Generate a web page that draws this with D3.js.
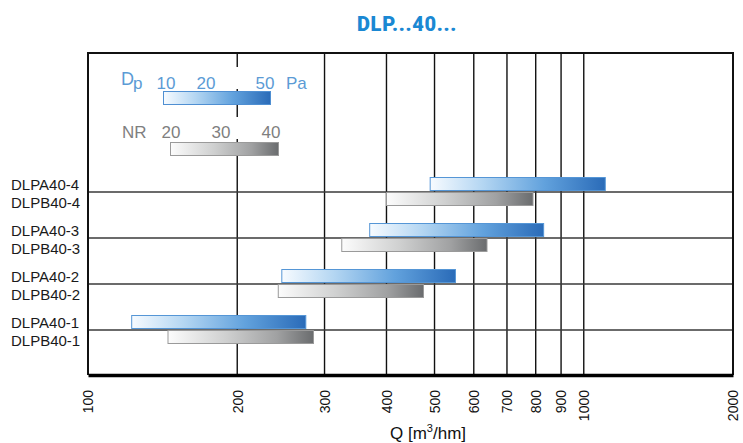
<!DOCTYPE html>
<html><head><meta charset="utf-8">
<script src="https://cdn.jsdelivr.net/npm/d3@7"></script>
<style>body{margin:0;background:#fff}</style>
</head><body><svg id="c" width="743" height="443"></svg>
<script>
const models = ["40-4","40-3","40-2","40-1"];
const labelsA = ["DLPA40-4","DLPA40-3","DLPA40-2","DLPA40-1"];
const labelsB = ["DLPB40-4","DLPB40-3","DLPB40-2","DLPB40-1"];
const aMin = [490, 370, 246, 122.5];
const aMax = [1105, 830, 551, 275];
const bMin = [400, 325, 242, 145];
const bMax = [790, 638, 475, 285];
const xTicks = [100,200,300,400,500,600,700,800,900,1000,2000];
const dpTicks = ["10","20","50"];
const nrTicks = ["20","30","40"];

const svg = d3.select("#c");
const L = 88, R = 733, T = 53, B = 375;
const x = d3.scaleLog().domain([100,2000]).range([L,R]);
const y = d3.scalePoint().domain(models).range([192,330]);

const defs = svg.append("defs");
function grad(id, stops){
  const g = defs.append("linearGradient").attr("id",id).attr("x1","0").attr("x2","1").attr("y1","0").attr("y2","0");
  stops.forEach(s=>g.append("stop").attr("offset",s[0]).attr("stop-color",s[1]));
}
grad("gBlue", [[0,"#f7fbff"],[0.3,"#b4d6f2"],[0.65,"#62a2dd"],[1,"#2a6bb8"]]);
grad("gGray", [[0,"#fcfcfc"],[0.4,"#cfd0d0"],[0.75,"#a0a1a2"],[1,"#6a6c6e"]]);

// title
svg.append("text").attr("x",407).attr("y",31).attr("text-anchor","middle")
  .attr("font-family","Roboto, 'Liberation Sans', sans-serif").attr("font-weight",900)
  .attr("font-size",20).attr("letter-spacing","0.7px").attr("fill","#1a88d3").text("DLP...40...");

// vertical gridlines
svg.append("g").selectAll("line").data(xTicks).join("line")
  .attr("x1",d=>x(d)).attr("x2",d=>x(d)).attr("y1",T).attr("y2",B)
  .attr("stroke","#111").attr("stroke-width",1.4);

// horizontal row lines
svg.append("g").selectAll("line").data(models).join("line")
  .attr("x1",L).attr("x2",R).attr("y1",d=>y(d)).attr("y2",d=>y(d))
  .attr("stroke","#3a3a3a").attr("stroke-width",1.6);

// frame top/left/right
svg.append("path").attr("d",`M${L},${B}V${T}H${R}V${B}`).attr("fill","none")
  .attr("stroke","#111").attr("stroke-width",2);

// legend
const leg = svg.append("g").attr("font-family","'Liberation Sans', Arial, sans-serif");
leg.append("rect").attr("x",116).attr("y",67).attr("width",197).attr("height",22).attr("fill","#fff");
leg.append("rect").attr("x",116).attr("y",117).attr("width",172).attr("height",22).attr("fill","#fff");
const blueTxt = "#5b9bd5";
const dt = leg.append("text").attr("x",121).attr("y",85).attr("fill",blueTxt).attr("font-size",18);
dt.append("tspan").text("D");
dt.append("tspan").attr("font-size",17).attr("dy",4).attr("dx",-1).text("p");
leg.selectAll(".dp").data(dpTicks).join("text").attr("class","dp")
  .attr("x",(d,i)=>[166,206,265][i]).attr("y",88.5).attr("text-anchor","middle")
  .attr("font-size",17).attr("fill",blueTxt).text(d=>d);
leg.append("text").attr("x",286).attr("y",88.5).attr("font-size",17).attr("fill",blueTxt).text("Pa");
leg.append("rect").attr("x",163.5).attr("y",91.5).attr("width",107).attr("height",13)
  .attr("fill","url(#gBlue)").attr("stroke","#4f8fd2").attr("stroke-width",1);
leg.append("text").attr("x",122).attr("y",137.5).attr("font-size",17).attr("fill","#7f7f7f").text("NR");
leg.selectAll(".nr").data(nrTicks).join("text").attr("class","nr")
  .attr("x",(d,i)=>[171,221,271][i]).attr("y",137.5).attr("text-anchor","middle")
  .attr("font-size",17).attr("fill","#7f7f7f").text(d=>d);
leg.append("rect").attr("x",170.5).attr("y",142.5).attr("width",108).attr("height",13)
  .attr("fill","url(#gGray)").attr("stroke","#9a9a9a").attr("stroke-width",1);

// bars
const idx = d3.range(models.length);
svg.append("g").selectAll("rect").data(idx).join("rect")
  .attr("x",i=>x(aMin[i])).attr("width",i=>x(aMax[i])-x(aMin[i]))
  .attr("y",i=>y(models[i])-14.5).attr("height",13)
  .attr("fill","url(#gBlue)").attr("stroke","#5596d6").attr("stroke-width",1);
svg.append("g").selectAll("rect").data(idx).join("rect")
  .attr("x",i=>x(bMin[i])).attr("width",i=>x(bMax[i])-x(bMin[i]))
  .attr("y",i=>y(models[i])+0.5).attr("height",13)
  .attr("fill","url(#gGray)").attr("stroke","#9a9a9a").attr("stroke-width",1);

// row labels
const lab = svg.append("g").attr("font-family","'Liberation Sans', Arial, sans-serif").attr("font-size",15).attr("fill","#1a1a1a");
lab.selectAll(".la").data(idx).join("text").attr("class","la")
  .attr("x",11).attr("y",i=>y(models[i])-2).text(i=>labelsA[i]);
lab.selectAll(".lb").data(idx).join("text").attr("class","lb")
  .attr("x",11).attr("y",i=>y(models[i])+16).text(i=>labelsB[i]);

// x axis
const ax = svg.append("g").attr("transform",`translate(0,${B})`)
  .call(d3.axisBottom(x).tickValues(xTicks).tickFormat(d3.format("d")).tickSize(0).tickPadding(0));
ax.select(".domain").attr("stroke","#000").attr("stroke-width",3.5);
ax.selectAll(".tick text").attr("transform","rotate(-90)").attr("x",-15).attr("y",0).attr("dy","0.35em")
  .attr("text-anchor","end").attr("font-family","'Liberation Sans', Arial, sans-serif")
  .attr("font-size",14).attr("fill","#111");

const xt = svg.append("text").attr("x",428).attr("y",439).attr("text-anchor","middle")
  .attr("font-family","'Liberation Sans', Arial, sans-serif").attr("font-size",17).attr("fill","#111");
xt.append("tspan").text("Q [m");
xt.append("tspan").attr("font-size",11).attr("dy",-7).text("3");
xt.append("tspan").attr("dy",7).text("/hm]");
</script></body></html>
